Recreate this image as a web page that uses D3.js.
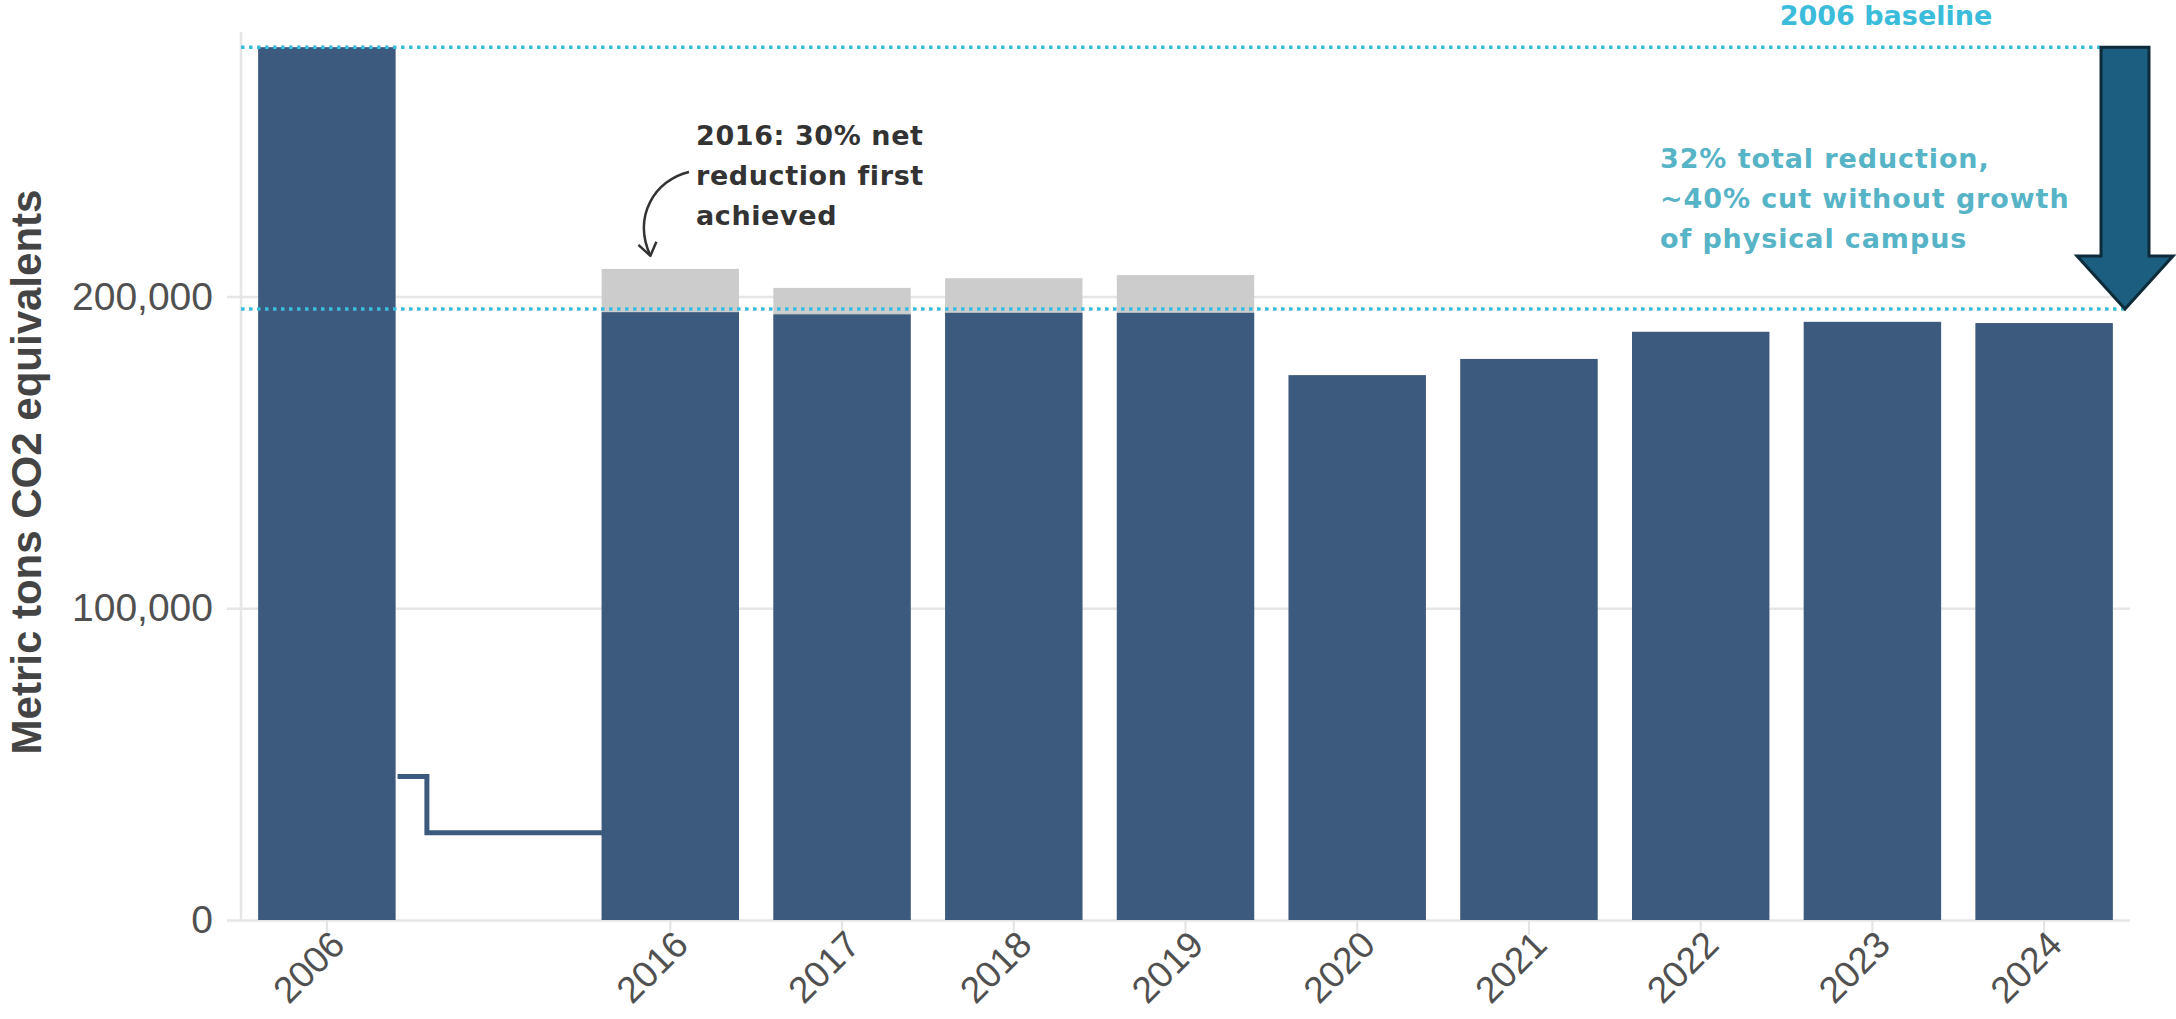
<!DOCTYPE html>
<html><head><meta charset="utf-8">
<script src="https://cdn.jsdelivr.net/npm/d3@7"></script>
<style>body{margin:0;background:#fff;} svg{display:block}</style>
</head><body><svg id="c" width="2176" height="1019"></svg>
<script>
// ---- data ----
const categories = ["2006","gap","2016","2017","2018","2019","2020","2021","2022","2023","2024"];
const years = ["2006","2016","2017","2018","2019","2020","2021","2022","2023","2024"];
const netEmissions   = [280000,195000,194300,194800,194800,174800,180000,188700,191900,191500];
const grossEmissions = [280000,208900,202800,205900,206900,174800,180000,188700,191900,191500];
const yTicks = [0,100000,200000];
const baselineValue = 280000;
const targetValue = 196000;
const breakLevels = [46000, 28000];
const yTitle = "Metric tons CO2 equivalents";
const baselineLabel = "2006 baseline";
const reductionNote = ["32% total reduction,","~40% cut without growth","of physical campus"];
const milestoneNote = ["2016: 30% net","reduction first","achieved"];

// ---- styles ----
const BLUE = "#3c5a7e", GRAY = "#cccccc", CYAN = "#3bbcdb", TEAL = "#56b4c6";
const svg = d3.select("#c");
const x = d3.scaleBand().domain(categories).range([241,2130]).paddingInner(0.2).paddingOuter(0.1);
const y = d3.scaleLinear().domain([0,285000]).range([920, 920-285000*0.003117]);
const bw = x.bandwidth();
const rows = years.map((yr,i)=>({yr, net:netEmissions[i], gross:grossEmissions[i]}));

// gridlines + y labels
const gy = svg.append("g").attr("transform","translate(227,0)")
  .call(d3.axisLeft(y).tickValues(yTicks).tickFormat(d3.format(",")).tickSize(-(2130-227)).tickPadding(14));
gy.select(".domain").remove();
gy.selectAll(".tick line").attr("stroke","#e6e6e6").attr("stroke-width",2.5);
gy.selectAll(".tick text").attr("fill","#505050").style("font-family","'Liberation Sans',Arial,sans-serif").style("font-size","39px");

// y axis vertical line
svg.append("line").attr("x1",241).attr("x2",241).attr("y1",y(285000)).attr("y2",y(0))
  .attr("stroke","#e6e6e6").attr("stroke-width",2.5);

// x axis
const gx = svg.append("g").attr("transform",`translate(0,${y(0)})`)
  .call(d3.axisBottom(x).tickValues(years).tickSize(15).tickPadding(8));
gx.select(".domain").remove();
gx.selectAll(".tick line").attr("stroke","#e3e3e3").attr("stroke-width",2);
gx.selectAll(".tick text").attr("fill","#505050").style("font-family","'Liberation Sans',Arial,sans-serif").style("font-size","37px")
  .attr("text-anchor","end").attr("dy",0).attr("y",0).attr("transform","translate(20,27) rotate(-45)");

// gross (gray) bars
svg.append("g").selectAll("rect").data(rows).join("rect")
  .attr("x",d=>x(d.yr)).attr("width",bw).attr("y",d=>y(d.gross)).attr("height",d=>y(0)-y(d.gross)).attr("fill",GRAY);
// net (blue) bars
svg.append("g").selectAll("rect").data(rows).join("rect")
  .attr("x",d=>x(d.yr)).attr("width",bw).attr("y",d=>y(d.net)).attr("height",d=>y(0)-y(d.net)).attr("fill",BLUE);

// axis break connector
svg.append("path")
  .attr("d",`M${x("2006")+bw+2},${y(breakLevels[0])}H${x("gap")-3}V${y(breakLevels[1])}H${x("2016")+2}`)
  .attr("fill","none").attr("stroke",BLUE).attr("stroke-width",5);

// dotted reference lines
const arrowX = x.range()[1]-5;
svg.append("line").attr("x1",241).attr("x2",arrowX-25).attr("y1",y(baselineValue)).attr("y2",y(baselineValue))
  .attr("stroke",CYAN).attr("stroke-width",3.5).attr("stroke-dasharray","3.5,4.5");
svg.append("line").attr("x1",241).attr("x2",arrowX).attr("y1",y(targetValue)).attr("y2",y(targetValue))
  .attr("stroke",CYAN).attr("stroke-width",3.5).attr("stroke-dasharray","3.5,4.5");

// big down arrow
const arrTop = y(baselineValue), arrTip = y(targetValue), headH = 53, sh = 24, hh = 48;
svg.append("path")
  .attr("d",`M${arrowX-sh},${arrTop}H${arrowX+sh}V${arrTip-headH}H${arrowX+hh}L${arrowX},${arrTip}L${arrowX-hh},${arrTip-headH}H${arrowX-sh}Z`)
  .attr("fill","#1b5e80").attr("stroke","#0e2b39").attr("stroke-width",3).attr("stroke-linejoin","miter");

// texts
const annFont = "'DejaVu Sans',sans-serif";
svg.append("text").attr("x",1886).attr("y",25).attr("text-anchor","middle").text(baselineLabel)
  .attr("fill",CYAN).style("font-family",annFont).style("font-weight","bold").style("font-size","27px");
reductionNote.forEach((t,i)=>svg.append("text").attr("x",1660).attr("y",168+i*40).text(t)
  .attr("fill",TEAL).style("font-family",annFont).style("font-weight","bold").style("font-size","27px").style("letter-spacing","0.9px"));
milestoneNote.forEach((t,i)=>svg.append("text").attr("x",696).attr("y",145+i*40).text(t)
  .attr("fill","#333").style("font-family",annFont).style("font-weight","bold").style("font-size","27px").style("letter-spacing","0.6px"));

// curved annotation arrow
const tx = x("2016")+bw*0.355, ty = y(grossEmissions[1])-13, sx = 689, sy = 172;
svg.append("path").attr("d",`M${sx},${sy}C${sx-34},${sy+8} ${tx-18},${ty-40} ${tx},${ty}`)
  .attr("fill","none").attr("stroke","#333").attr("stroke-width",2.5);
svg.append("path").attr("d",`M${tx-12},${ty-11}L${tx},${ty}L${tx+6},${ty-14}`)
  .attr("fill","none").attr("stroke","#333").attr("stroke-width",2.5).attr("stroke-linejoin","round");

// y title
svg.append("text").attr("transform",`translate(41,472) rotate(-90)`).attr("text-anchor","middle").text(yTitle)
  .attr("fill","#444").style("font-family","'Liberation Sans',Arial,sans-serif").style("font-weight","bold").style("font-size","42px");
</script></body></html>
